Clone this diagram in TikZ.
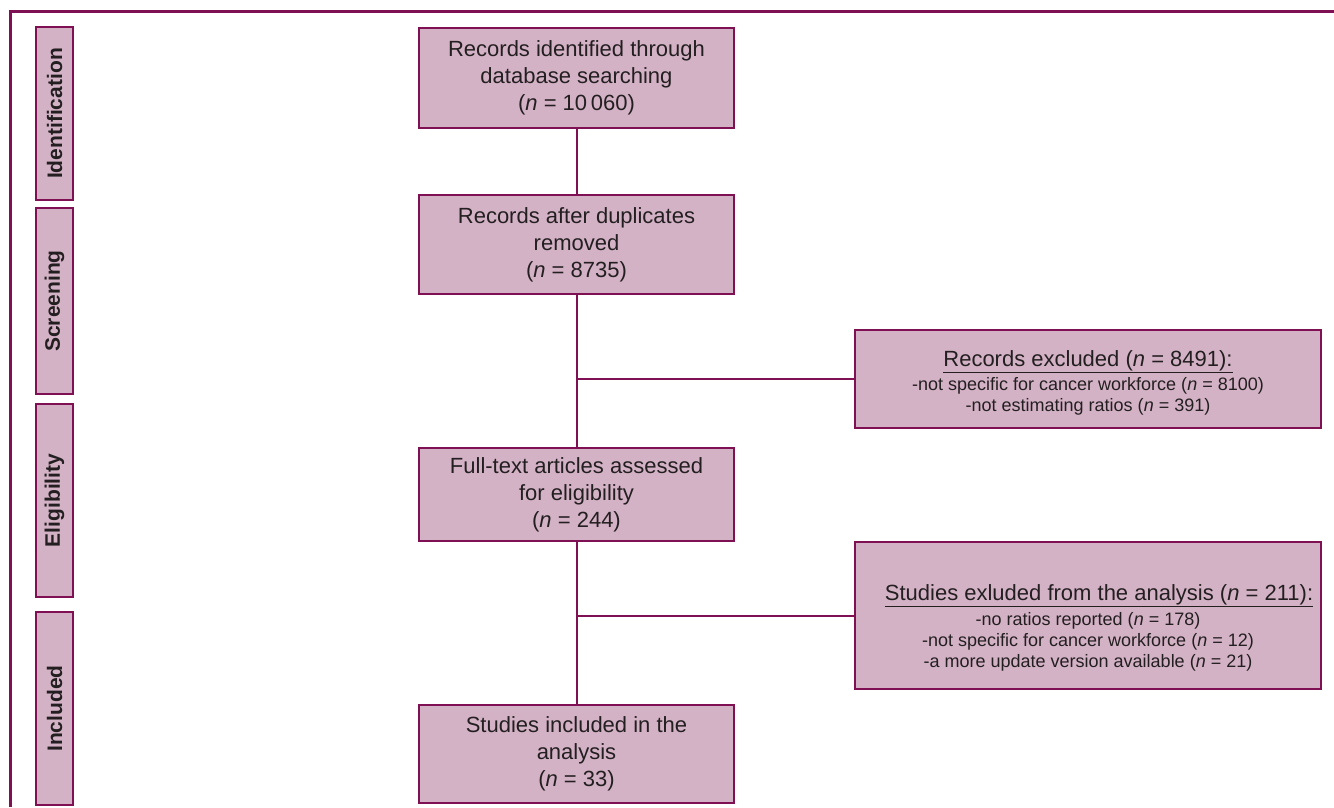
\documentclass[tikz,border=0pt]{standalone}
\usepackage{fontspec}
\setmainfont{Liberation Sans}
\definecolor{prismafill}{RGB}{212,178,198}
\definecolor{prismaline}{RGB}{128,16,84}
\definecolor{prismatext}{RGB}{35,31,32}
\tikzset{
  stagebox/.style={draw=prismaline, fill=prismafill, line width=1.5pt, rotate=90,
    inner sep=0pt, minimum height=37pt, text=prismatext,
    font=\fontsize{21}{25}\selectfont\bfseries},
  flowbox/.style={draw=prismaline, fill=prismafill, line width=1.5pt, align=center,
    inner sep=0pt, minimum width=315pt, text=prismatext,
    font=\fontsize{22}{27}\selectfont},
  exclbox/.style={draw=prismaline, fill=prismafill, line width=1.5pt, align=center,
    inner sep=0pt, minimum width=466pt, text=prismatext,
    font=\fontsize{18}{21}\selectfont},
}
\newcommand{\exhead}[2]{{\fontsize{22}{24}\selectfont\rule{0pt}{#1}\underline{#2}}}
\begin{document}
\begin{tikzpicture}[x=1pt, y=-1pt]
      \useasboundingbox (0,0) rectangle (1334,807);
      % frame
      \draw[prismaline, line width=3pt] (1334,11) -- (10,11) -- (10,807);
      % stages
      \node[stagebox, minimum width=173pt] (ident) at (54.5,113.5) {Identification};
      \node[stagebox, minimum width=186pt] (screen) at (54.5,301) {Screening};
      \node[stagebox, minimum width=193pt] (elig) at (54.5,500.5) {Eligibility};
      \node[stagebox, minimum width=193pt] (incl) at (54.5,708.5) {Included};
      % main flow
      \node[flowbox, minimum height=100pt] (found) at (576.5,78)
        {Records identified through\\database searching\\(\textit{n} = 10\,060)};
      \node[flowbox, minimum height=99pt] (dedup) at (576.5,244.5)
        {Records after duplicates\\removed\\(\textit{n} = 8735)};
      \node[flowbox, minimum height=93pt] (fulltext) at (576.5,494.5)
        {Full-text articles assessed\\for eligibility\\(\textit{n} = 244)};
      \node[flowbox, minimum height=98pt] (included) at (576.5,754)
        {Studies included in the\\analysis\\(\textit{n} = 33)};
      % exclusions
      \node[exclbox, minimum height=98pt] (recex) at (1088,379)
        {\exhead{23pt}{Records excluded (\textit{n} = 8491):}\\[3pt]
         -not specific for cancer workforce (\textit{n} = 8100)\\
         -not estimating ratios (\textit{n} = 391)};
      \node[exclbox, minimum height=147pt] (studex) at (1088,615.5)
        {\hspace*{22pt}\exhead{41pt}{Studies exluded from the analysis (\textit{n} = 211):}\\[4pt]
         -no ratios reported (\textit{n} = 178)\\
         -not specific for cancer workforce (\textit{n} = 12)\\
         -a more update version available (\textit{n} = 21)};
      \begin{scope}[draw=prismaline, line width=2pt]
        \draw (found) -- (dedup);
        \draw (dedup) -- (fulltext);
        \draw (fulltext) -- (included);
        \draw (dedup |- recex) -- (recex);
        \draw (fulltext |- studex) -- (studex);
      \end{scope}
    \end{tikzpicture}
\end{document}
